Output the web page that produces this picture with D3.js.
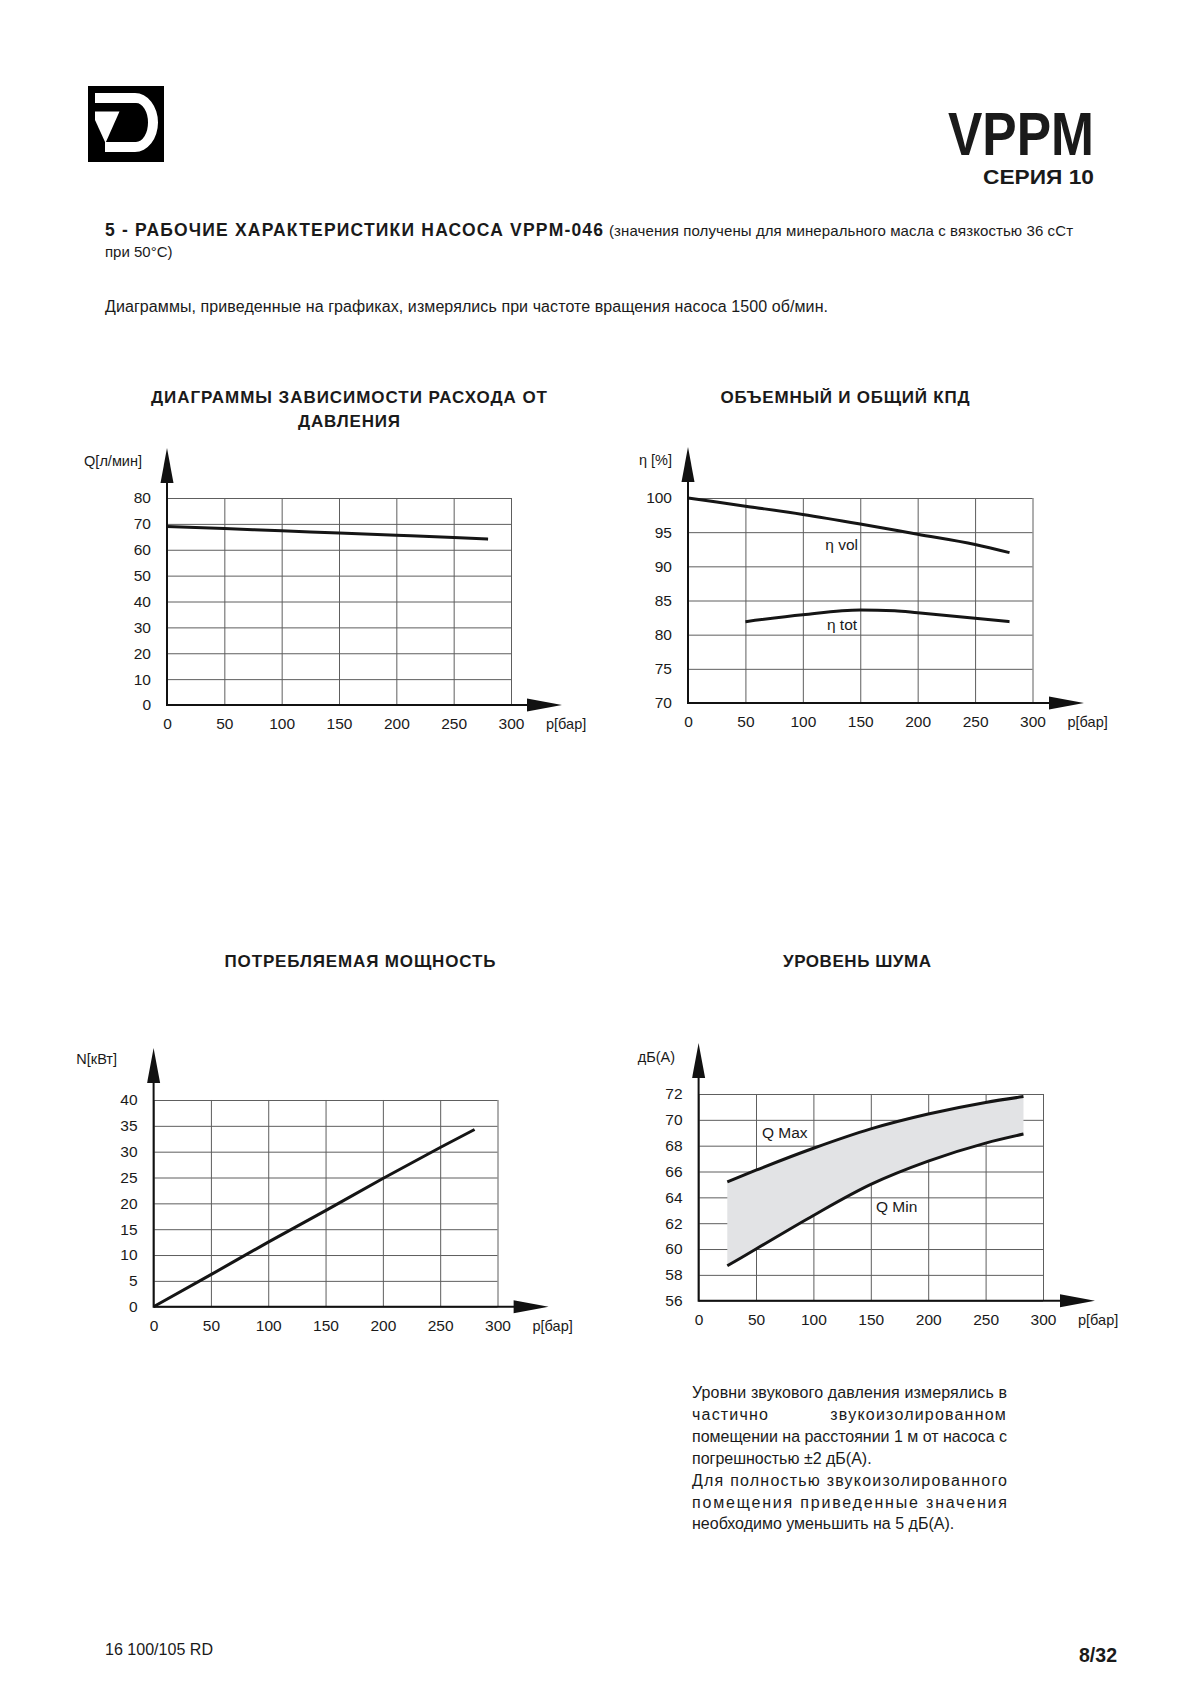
<!DOCTYPE html>
<html>
<head>
<meta charset="utf-8">
<script src="https://cdn.jsdelivr.net/npm/d3@7"></script>
<style>
body { margin: 0; background: #fff; }
svg { display: block; }
text { font-family: "Liberation Sans", Arial, Helvetica, sans-serif; fill: #1a1a1a; }
</style>
</head>
<body>
<div id="page"></div>
<script>
// pressure axis is shared by all four charts
var pressureTicks = [0, 50, 100, 150, 200, 250, 300];

// flow vs pressure
var flowTicks = [0, 10, 20, 30, 40, 50, 60, 70, 80];
var flowP = [0, 50, 100, 150, 200, 250, 280];
var flowQ = [69.0, 68.2, 67.3, 66.5, 65.6, 64.7, 64.1];

// volumetric / total efficiency
var effTicks = [70, 75, 80, 85, 90, 95, 100];
var volP = [0, 50, 100, 150, 200, 250, 280];
var volEff = [100, 98.8, 97.6, 96.2, 94.7, 93.2, 92.0];
var totP = [50, 100, 150, 180, 200, 250, 280];
var totEff = [81.9, 82.9, 83.6, 83.5, 83.2, 82.4, 81.9];

// absorbed power
var powerTicks = [0, 5, 10, 15, 20, 25, 30, 35, 40];
var powerP = [0, 50, 100, 150, 200, 250, 280];
var powerN = [0, 6.2, 12.5, 18.6, 24.8, 30.8, 34.3];

// noise level
var noiseTicks = [56, 58, 60, 62, 64, 66, 68, 70, 72];
var noiseP = [25, 50, 100, 150, 200, 250, 283];
var noiseMax = [65.2, 66.1, 67.8, 69.3, 70.45, 71.35, 71.8];
var noiseMin = [58.7, 60.0, 62.6, 65.0, 66.8, 68.2, 68.9];

// note text, one entry per printed line ("j" = justified line)
var noteLines = [
  "Уровни звукового давления измерялись в",
  "частично|звукоизолированном",
  "помещении на расстоянии 1 м от насоса с",
  "погрешностью ±2 дБ(А).",
  "Для полностью звукоизолированного",
  "помещения приведенные значения",
  "необходимо уменьшить на 5 дБ(А)."
];
var noteJustify = [true, true, true, false, true, true, false];

var svg = d3.select("#page").append("svg")
  .attr("width", 1200)
  .attr("height", 1698);

svg.append("rect").attr("width", 1200).attr("height", 1698).attr("fill", "#fff");

function txt(x, y, s, size, opts) {
  opts = opts || {};
  var t = svg.append("text")
    .attr("x", x).attr("y", y)
    .style("font-size", size + "px")
    .text(s);
  if (opts.bold) t.style("font-weight", "bold");
  if (opts.anchor) t.attr("text-anchor", opts.anchor);
  if (opts.spacing) t.style("letter-spacing", opts.spacing + "px");
  if (opts.len) t.attr("textLength", opts.len).attr("lengthAdjust", opts.adjust || "spacing");
  return t;
}

// ---- header ----
var logo = svg.append("g");
logo.append("rect").attr("x", 88).attr("y", 86).attr("width", 76).attr("height", 76).attr("fill", "#000");
logo.append("path")
  .attr("d", "M95,93 L135,93 A23,29.5 0 0 1 135,152 L105,152 L105,142 L136,142 A12,19.5 0 0 0 136,103 L95,103 Z")
  .attr("fill", "#fff");
logo.append("path")
  .attr("d", "M95,111.5 L119.5,111.5 L105.5,143 L95,120 Z")
  .attr("fill", "#fff");

txt(1094, 155, "VPPM", 62, {bold: true, anchor: "end", len: 146, adjust: "spacingAndGlyphs"});
txt(1094, 184, "СЕРИЯ 10", 21, {bold: true, anchor: "end", len: 111, adjust: "spacingAndGlyphs"});

txt(105, 236, "5 - РАБОЧИЕ ХАРАКТЕРИСТИКИ НАСОСА VPPM-046", 17.5, {bold: true, len: 498});
txt(609, 236, "(значения получены для минерального масла с вязкостью 36 cСт", 15, {len: 464});
txt(105, 257, "при 50°C)", 15);
txt(105, 312, "Диаграммы, приведенные на графиках, измерялись при частоте вращения насоса 1500 об/мин.", 16, {len: 723});

// ---- chart helper ----
function chart(c) {
  var g = svg.append("g");
  var x = d3.scaleLinear().domain([0, 300]).range([c.left, c.right]);
  var y = d3.scaleLinear()
    .domain([c.yTicks[0], c.yTicks[c.yTicks.length - 1]])
    .range([c.bottom, c.top]);

  var yAxis = g.append("g")
    .attr("transform", "translate(" + c.left + ",0)")
    .call(d3.axisLeft(y).tickValues(c.yTicks).tickSize(-(c.right - c.left)).tickPadding(16));
  var xAxis = g.append("g")
    .attr("transform", "translate(0," + c.bottom + ")")
    .call(d3.axisBottom(x).tickValues(pressureTicks).tickSize(-(c.bottom - c.top)).tickPadding(13));

  [yAxis, xAxis].forEach(function(a) {
    a.select(".domain").remove();
    a.selectAll("line").attr("stroke", "#5e5e5e").attr("stroke-width", 1);
    a.selectAll("text").style("font-size", "15.5px");
  });

  if (c.area) {
    var area = d3.area()
      .x(function(d) { return x(d.p); })
      .y0(function(d) { return y(d.lo); })
      .y1(function(d) { return y(d.hi); })
      .curve(d3.curveMonotoneX);
    g.append("path").datum(c.area).attr("d", area).attr("fill", "#e2e3e5");
  }

  var line = d3.line()
    .x(function(d) { return x(d.p); })
    .y(function(d) { return y(d.v); })
    .curve(d3.curveMonotoneX);

  c.series.forEach(function(s) {
    g.append("path").datum(s)
      .attr("d", line)
      .attr("fill", "none")
      .attr("stroke", "#151515")
      .attr("stroke-width", 3);
  });

  // axis lines with arrow heads
  var xEnd = c.xArrowEnd, yEnd = c.yArrowTop, head = 35, half = 6.5;
  g.append("line").attr("x1", c.left).attr("x2", xEnd - head + 2)
    .attr("y1", c.bottom).attr("y2", c.bottom)
    .attr("stroke", "#111").attr("stroke-width", 2);
  g.append("line").attr("x1", c.left).attr("x2", c.left)
    .attr("y1", c.bottom + 1).attr("y2", yEnd + head - 2)
    .attr("stroke", "#111").attr("stroke-width", 2);
  g.append("path")
    .attr("d", "M" + (xEnd - head) + "," + (c.bottom - half) + " L" + xEnd + "," + c.bottom +
      " L" + (xEnd - head) + "," + (c.bottom + half) + " Z")
    .attr("fill", "#111");
  g.append("path")
    .attr("d", "M" + (c.left - half) + "," + (yEnd + head) + " L" + c.left + "," + yEnd +
      " L" + (c.left + half) + "," + (yEnd + head) + " Z")
    .attr("fill", "#111");

  txt(c.right + 35, c.bottom + 24, "p[бар]", 14.5);
  txt(c.yLabelX, c.yLabelY, c.yLabel, 14.5, {anchor: "end"});

  c.title.forEach(function(t) {
    txt(t.x, t.y, t.text, 17, {bold: true, anchor: "middle", len: t.len});
  });

  (c.labels || []).forEach(function(l) {
    txt(x(l.p), y(l.v), l.text, 15.5);
  });
}

function pts(ps, vs) {
  return ps.map(function(p, i) { return {p: p, v: vs[i]}; });
}

chart({
  left: 167, right: 511, top: 498, bottom: 705,
  xArrowEnd: 562, yArrowTop: 448,
  yTicks: flowTicks,
  yLabel: "Q[л/мин]", yLabelX: 142, yLabelY: 466,
  title: [
    {text: "ДИАГРАММЫ ЗАВИСИМОСТИ РАСХОДА ОТ", x: 349, y: 403, len: 396},
    {text: "ДАВЛЕНИЯ", x: 349, y: 427, len: 102}
  ],
  series: [pts(flowP, flowQ)]
});

chart({
  left: 688, right: 1032.5, top: 498, bottom: 703,
  xArrowEnd: 1084, yArrowTop: 447,
  yTicks: effTicks,
  yLabel: "η [%]", yLabelX: 672, yLabelY: 465,
  title: [{text: "ОБЪЕМНЫЙ И ОБЩИЙ КПД", x: 845, y: 403, len: 249}],
  series: [pts(volP, volEff), pts(totP, totEff)],
  labels: [
    {text: "η vol", p: 119.5, v: 92.4},
    {text: "η tot", p: 121, v: 80.7}
  ]
});

chart({
  left: 153.6, right: 497.5, top: 1100, bottom: 1306.7,
  xArrowEnd: 548.6, yArrowTop: 1048,
  yTicks: powerTicks,
  yLabel: "N[кВт]", yLabelX: 117, yLabelY: 1064,
  title: [{text: "ПОТРЕБЛЯЕМАЯ МОЩНОСТЬ", x: 360, y: 967, len: 271}],
  series: [pts(powerP, powerN)]
});

chart({
  left: 698.6, right: 1043, top: 1094, bottom: 1300.7,
  xArrowEnd: 1095, yArrowTop: 1043,
  yTicks: noiseTicks,
  yLabel: "дБ(А)", yLabelX: 675, yLabelY: 1062,
  title: [{text: "УРОВЕНЬ ШУМА", x: 857, y: 967, len: 148}],
  area: noiseP.map(function(p, i) { return {p: p, lo: noiseMin[i], hi: noiseMax[i]}; }),
  series: [pts(noiseP, noiseMax), pts(noiseP, noiseMin)],
  labels: [
    {text: "Q Max", p: 55.2, v: 68.6},
    {text: "Q Min", p: 154.5, v: 62.9}
  ]
});

// ---- note under the noise chart ----
var noteLeft = 692, noteRight = 1007;
noteLines.forEach(function(s, i) {
  var yy = 1398 + i * 21.9;
  if (s.indexOf("|") >= 0) {
    // wide word gap line: first word left, second word pushed to the right edge
    var parts = s.split("|");
    txt(noteLeft, yy, parts[0], 16, {spacing: 1.2});
    txt(noteRight, yy, parts[1], 16, {anchor: "end", spacing: 1.2});
  } else {
    txt(noteLeft, yy, s, 16, noteJustify[i] ? {len: noteRight - noteLeft} : {});
  }
});

// ---- footer ----
txt(105, 1655, "16 100/105 RD", 16, {len: 108, adjust: "spacingAndGlyphs"});
txt(1117, 1662, "8/32", 21, {bold: true, anchor: "end", len: 38, adjust: "spacingAndGlyphs"});
</script>
</body>
</html>
